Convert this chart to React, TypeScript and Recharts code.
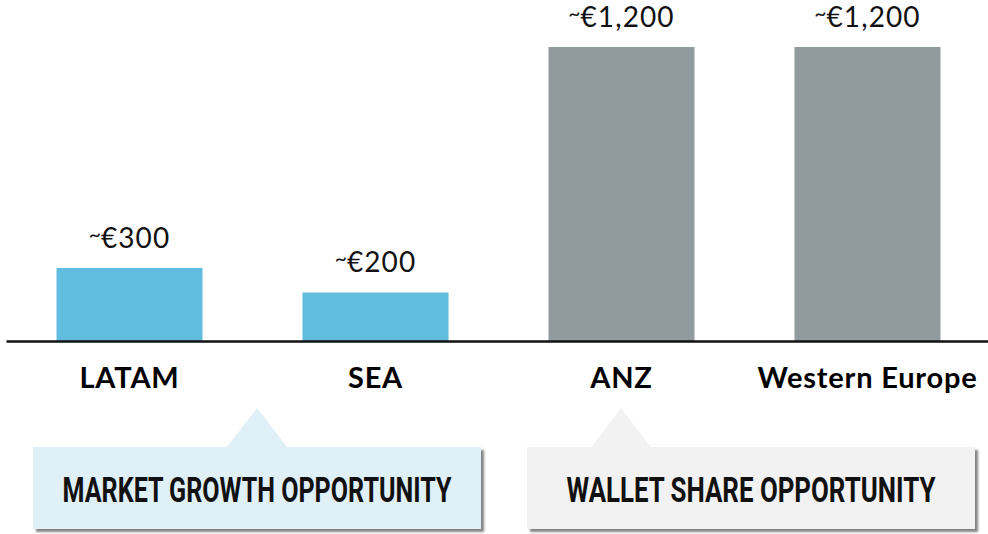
import React, { useLayoutEffect, useRef, useState } from "react";
import { BarChart, Bar, XAxis, YAxis, Cell, LabelList } from "recharts";

const regions = ["LATAM", "SEA", "ANZ", "Western Europe"];
const spendValues = [300, 200, 1200, 1200];
const valueLabels = ["~€300", "~€200", "~€1,200", "~€1,200"];
const barColors = ["#62BCDE", "#62BCDE", "#919A9D", "#919A9D"];

const callouts = [
  { text: "MARKET GROWTH OPPORTUNITY", fill: "#E0F0F7", box: [33, 447, 448, 82], tip: 257, tipHalf: 30.5, textWidth: 389 },
  { text: "WALLET SHARE OPPORTUNITY", fill: "#F2F2F2", box: [527, 447, 448, 82], tip: 621, tipHalf: 30, textWidth: 369 },
];

const data = regions.map((r, i) => ({ region: r, value: spendValues[i], label: valueLabels[i] }));

const CategoryTick = (props: any) => {
  const { x, y, payload } = props;
  return (
    <text
      x={x}
      y={y + 38}
      textAnchor="middle"
      fontFamily="Lato, sans-serif"
      fontWeight={700}
      fontSize={29}
      letterSpacing={0.8}
      fill="#000"
    >
      {payload.value}
    </text>
  );
};

const ValueLabel = (props: any) => {
  const { x, y, width, index } = props;
  const lbl = valueLabels[index];
  return (
    <text
      x={x + width / 2}
      y={y - 20}
      textAnchor="middle"
      fontFamily="Lato, sans-serif"
      fontWeight={400}
      fontSize={28}
      fill="#111"
    >
      <tspan fontSize={21} dy={-6}>{lbl.slice(0, 1)}</tspan>
      <tspan dy={6} letterSpacing={1.1}>{lbl.slice(1)}</tspan>
    </text>
  );
};

const CondensedText = ({ cx, y, text, width }: any) => {
  const ref = useRef<SVGTextElement>(null);
  const [sx, setSx] = useState(1);
  useLayoutEffect(() => {
    if (ref.current) {
      const w = ref.current.getComputedTextLength();
      if (w > 0) setSx(width / w);
    }
  }, [text, width]);
  return (
    <text
      ref={ref}
      x={0}
      y={0}
      transform={`translate(${cx},${y}) scale(${sx},1)`}
      textAnchor="middle"
      fontFamily="Roboto, sans-serif"
      fontWeight={700}
      fontSize={36}
      fill="#111"
    >
      {text}
    </text>
  );
};

export default function App() {
  return (
    <div style={{ position: "absolute", left: 0, top: 0, width: 988, height: 534, overflow: "hidden", background: "#fff" }}>
      <BarChart
        width={992}
        height={534}
        data={data}
        margin={{ top: 47, right: 1.5, left: 6.5, bottom: 152.5 }}
      >
        <YAxis hide domain={[0, 1200]} />
        <XAxis
          dataKey="region"
          height={40}
          axisLine={{ stroke: "#111", strokeWidth: 2.5 }}
          tickLine={false}
          tick={<CategoryTick />}
          interval={0}
        />
        <Bar dataKey="value" barSize={146} isAnimationActive={false}>
          {data.map((d, i) => (
            <Cell key={d.region} fill={barColors[i]} />
          ))}
          <LabelList dataKey="label" content={<ValueLabel />} />
        </Bar>
      </BarChart>
      <svg width={988} height={534} style={{ position: "absolute", left: 0, top: 0, pointerEvents: "none" }}>
        <defs>
          <filter id="shadow" x="-5%" y="-10%" width="115%" height="130%">
            <feDropShadow dx={3} dy={3} stdDeviation={1.3} floodColor="#333" floodOpacity={0.6} />
          </filter>
        </defs>
        {callouts.map((c) => {
          const [bx, by, bw, bh] = c.box;
          return (
            <g key={c.text}>
              <rect x={bx} y={by} width={bw} height={bh} fill={c.fill} filter="url(#shadow)" />
              <polygon points={`${c.tip - c.tipHalf},${by + 0.5} ${c.tip},${408} ${c.tip + c.tipHalf},${by + 0.5}`} fill={c.fill} />
              <CondensedText cx={bx + bw / 2} y={by + 55} text={c.text} width={c.textWidth} />
            </g>
          );
        })}
      </svg>
    </div>
  );
}
